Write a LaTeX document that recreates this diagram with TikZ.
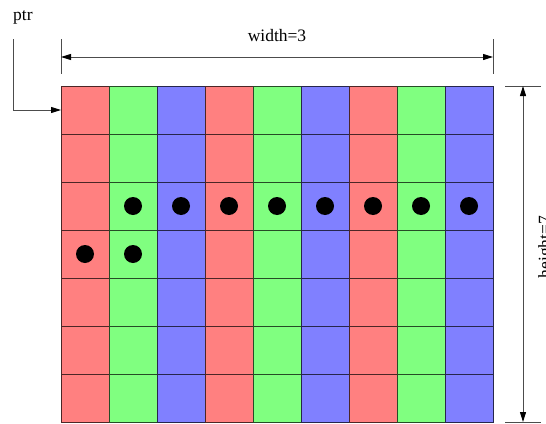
\documentclass[tikz,border=0pt]{standalone}
\usepackage{fontspec}
\setmainfont{Liberation Serif}
\usetikzlibrary{arrows.meta}
\definecolor{cr}{HTML}{FF8080}
\definecolor{cg}{HTML}{80FF80}
\definecolor{cb}{HTML}{8080FF}
\tikzset{
  cell/.style={draw=#1!30!black, fill=#1, line width=1pt, minimum size=48pt,
    inner sep=0pt, outer sep=0pt, anchor=north west},
  dot/.style={circle, fill=black, minimum size=18pt, inner sep=0pt},
  dimline/.style={draw=black!70, line width=1pt},
  tipend/.style={-{Triangle[length=10pt,width=6pt,color=black]}},
  tipboth/.style={{Triangle[length=10pt,width=6pt,color=black]}-{Triangle[length=10pt,width=6pt,color=black]}},
  lbl/.style={font=\fontsize{17.5}{20}\selectfont, inner sep=0pt},
}
\begin{document}
\begin{tikzpicture}[x=1pt,y=-1pt]
\useasboundingbox (0,0) rectangle (546,423);
\foreach \i in {0,...,8} {
  \pgfmathtruncatemacro\k{mod(\i,3)}
  \ifcase\k \def\cc{cr}\or\def\cc{cg}\or\def\cc{cb}\fi
  \foreach \j in {0,...,6} {
    \node[cell=\cc] (c-\i-\j) at ({61+48*\i},{86+48*\j}) {};
  }
}
\foreach \i in {1,...,8} \node[dot] (d-\i-2) at (c-\i-2.center) {};
\node[dot] (d-0-3) at (c-0-3.center) {};
\node[dot] (d-1-3) at (c-1-3.center) {};
% width dimension
\coordinate (wlt) at (61,39); \coordinate (wlb) at (61,74);
\coordinate (wrt) at (493,39); \coordinate (wrb) at (493,74);
\coordinate (wl) at (61,57); \coordinate (wr) at (493,57);
\draw[dimline] (wlt) -- (wlb);
\draw[dimline] (wrt) -- (wrb);
\draw[dimline, tipboth] (wl) -- (wr);
\node[lbl, anchor=base] (wlabel) at (277,41) {width=3};
% height dimension
\coordinate (htl) at (505,86); \coordinate (htr) at (541,86);
\coordinate (hbl) at (505,422); \coordinate (hbr) at (541,422);
\coordinate (ht) at (523,86); \coordinate (hb) at (523,422);
\draw[dimline] (htl) -- (htr);
\draw[dimline] (hbl) -- (hbr);
\draw[dimline, tipboth] (ht) -- (hb);
\node[lbl, rotate=90, anchor=north] (hlabel) at (538,247) {height=7};
% ptr
\node[lbl, anchor=base west] (ptr) at (13,20) {ptr};
\coordinate (p0) at (13,39);
\draw[dimline, tipend] (p0) |- (c-0-0.west);
\end{tikzpicture}
\end{document}
